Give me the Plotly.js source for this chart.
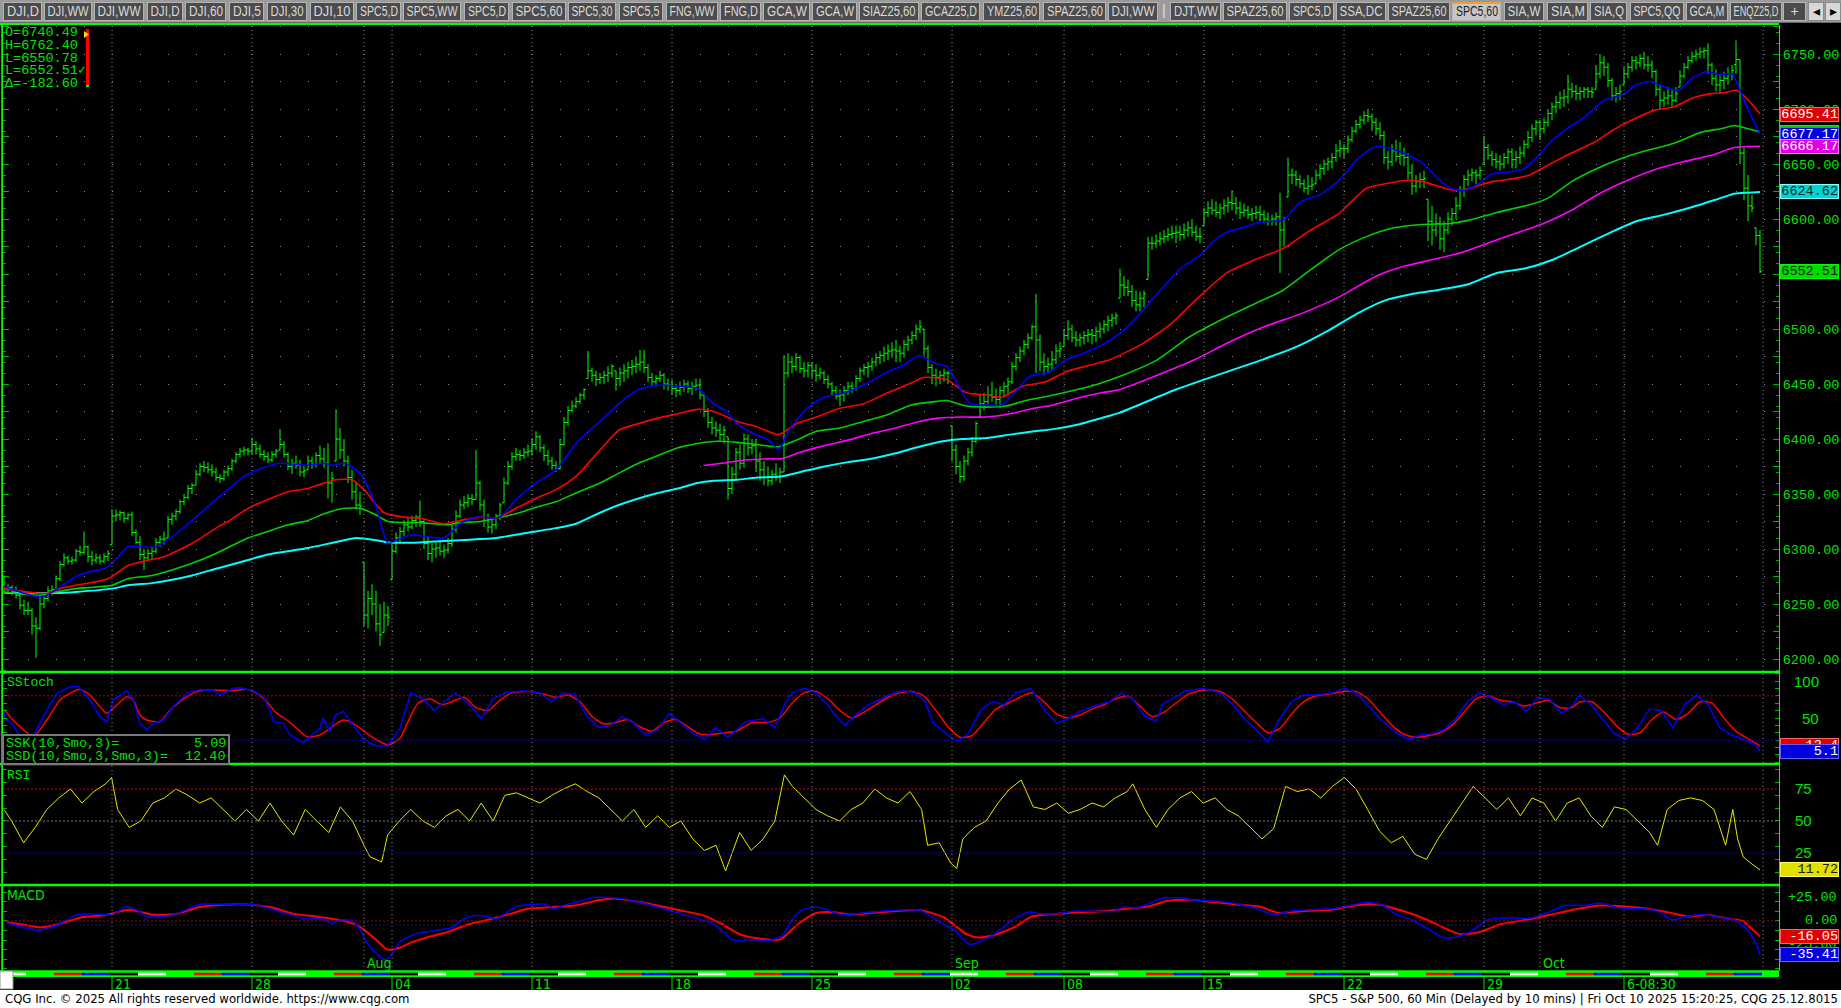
<!DOCTYPE html>
<html><head><meta charset="utf-8">
<script src="https://cdn.plot.ly/plotly-3.0.1.min.js"></script>
<style>
html,body{margin:0;padding:0;background:#000;overflow:hidden}
#wrap{position:relative;width:1841px;height:1008px;background:#000}
#chart{position:absolute;left:0;top:0;width:1841px;height:1008px}
#tabs{position:absolute;left:0;top:0;width:1841px;height:23px;background:#9a9a9a;z-index:5;border-bottom:1px solid #6a6a6a;box-sizing:border-box}
.tab{position:absolute;top:2px;height:19px;background:#4c4c4c;color:#dadada;border:1px solid #b4b4b4;box-sizing:border-box;font:14px 'Liberation Sans','Arial',sans-serif;line-height:17px;white-space:nowrap;overflow:hidden}
.tab span{position:absolute;left:50%;top:0;white-space:nowrap;transform-origin:50% 50%}
.tab.sel{background:#c6c6c6;color:#1e1e1e;border-top:2px solid #f0a030;line-height:15px}
.tab.btn{background:#d8d8d8;color:#000;border-color:#8a8a8a}
.sep{position:absolute;top:2px;height:19px;color:#e0e0e0;font:14px 'Liberation Sans',sans-serif;line-height:17px}
#footer{position:absolute;left:0;top:990px;width:1841px;height:18px;background:#fff;z-index:5;font:13px 'Liberation Sans Narrow','DejaVu Sans Condensed',sans-serif;color:#000;line-height:18px}
#footer .l{position:absolute;left:5px;top:0}
#footer .r{position:absolute;right:3px;top:0}
</style></head>
<body>
<div id="wrap">
  <div id="chart"></div>
  <div id="tabs"></div>
  <div id="footer"><span class="l"></span><span class="r"></span></div>
</div>
<script>
// ---------------- DATA ----------------
const sessionDates = ['07-15','07-16','07-17','07-18','07-21','07-22','07-23','07-24','07-25','07-28','07-29','07-30','07-31','08-01',
'08-04','08-05','08-06','08-07','08-08','08-11','08-12','08-13','08-14','08-15','08-18','08-19','08-20','08-21','08-22',
'08-25','08-26','08-27','08-28','08-29','09-02','09-03','09-04','09-05','09-08','09-09','09-10','09-11','09-12',
'09-15','09-16','09-17','09-18','09-19','09-22','09-23','09-24','09-25','09-26','09-29','09-30','10-01','10-02','10-03',
'10-06','10-07','10-08','10-09','10-10'];

const highs = [
6276,6268,6267,6266,6260,6254,
6252,6246,6238,6257,6258,6266,6267, 6276,6289,6296,6294,6293,6300,6303, 6316,6303,6298,6296,6295,6296,6299,
6336,6336,6335,6334,6333,6334,6318, 6312,6300,6300,6302,6310,6312,6316, 6330,6333,6336,6345,6350,6358,6360, 6372,6378,6380,6379,6377,6374,6368, 6372,6376,6382,6388,6392,6393,6392,
6401,6398,6395,6390,6388,6389,6391, 6409,6398,6388,6382,6385,6381,6376, 6385,6384,6388,6394,6392,6396,6370, 6427,6410,6400,6385,6372,6360,6352, 6288,6262,6268,6262,6250,6252,6248,
6305,6315,6320,6326,6328,6330,6331, 6344,6326,6312,6305,6306,6308,6304, 6310,6322,6335,6345,6348,6350,6350, 6390,6362,6345,6332,6328,6332,6342, 6365,6380,6388,6392,6390,6392,6395,
6400,6407,6404,6395,6390,6384,6380, 6400,6420,6430,6435,6438,6442,6446, 6480,6465,6462,6460,6462,6466,6468, 6462,6465,6468,6470,6472,6475,6481, 6481,6468,6460,6458,6462,6460,6455,
6454,6450,6452,6454,6453,6452,6455, 6455,6442,6428,6420,6416,6414,6412, 6402,6375,6392,6395,6405,6404,6400, 6400,6388,6380,6375,6372,6378,6374, 6476,6478,6475,6478,6476,6470,6470,
6470,6468,6465,6462,6458,6452,6448, 6445,6448,6452,6452,6458,6465,6468, 6470,6474,6478,6480,6484,6486,6488, 6490,6485,6490,6494,6498,6504,6508, 6500,6485,6468,6464,6462,6464,6462,
6412,6395,6380,6385,6392,6402,6416, 6440,6442,6448,6452,6446,6448,6452, 6456,6470,6478,6484,6490,6496,6504, 6532,6495,6478,6474,6480,6486,6488,
6500,6508,6504,6498,6496,6498,6500, 6500,6502,6506,6508,6512,6514,6515, 6555,6548,6545,6540,6535,6534,6535, 6584,6584,6586,6588,6590,6592,6594, 6594,6594,6596,6598,6600,6594,6592,
6610,6616,6618,6616,6614,6618,6620, 6626,6620,6616,6614,6612,6610,6612, 6612,6608,6606,6604,6606,6624,6602, 6656,6646,6644,6640,6636,6640,6638, 6645,6650,6654,6656,6660,6668,6672,
6668,6676,6684,6690,6694,6698,6700, 6696,6692,6688,6680,6662,6668,6672, 6670,6665,6660,6650,6640,6642,6644, 6618,6612,6605,6602,6598,6606,6610, 6620,6630,6640,6645,6646,6645,6648,
6675,6668,6662,6660,6658,6660,6664, 6664,6662,6666,6672,6680,6686,6690, 6690,6692,6700,6706,6712,6716,6718, 6731,6724,6722,6720,6720,6720,6720, 6740,6750,6748,6742,6728,6720,6722,
6738,6742,6748,6748,6750,6752,6748, 6744,6736,6722,6716,6720,6718,6720, 6735,6742,6748,6752,6754,6756,6756, 6760,6742,6736,6732,6734,6738,6740, 6762.40,6745,6665,6640,6622,6592,6590];

const lows = [
6260,6259,6258,6255,6245,6240,
6240,6222,6201,6226,6246,6252,6258, 6262,6271,6284,6286,6286,6288,6294, 6295,6288,6285,6287,6286,6287,6289,
6304,6325,6326,6324,6326,6312,6305, 6290,6281,6289,6291,6296,6302,6304, 6310,6322,6326,6332,6340,6345,6350, 6358,6366,6370,6369,6366,6362,6360, 6362,6366,6371,6378,6383,6385,6385,
6386,6386,6383,6380,6378,6379,6383, 6390,6383,6372,6368,6373,6366,6365, 6372,6373,6374,6378,6374,6346,6342, 6380,6382,6375,6360,6345,6336,6331, 6230,6228,6240,6225,6212,6224,6230,
6272,6296,6306,6312,6316,6318,6320, 6320,6300,6290,6288,6292,6294,6292, 6296,6302,6315,6328,6336,6338,6340, 6345,6335,6320,6315,6314,6318,6326, 6342,6358,6372,6380,6380,6382,6384,
6385,6390,6388,6380,6376,6372,6370, 6372,6394,6412,6424,6428,6432,6436, 6455,6452,6448,6450,6450,6452,6456, 6444,6448,6452,6455,6458,6460,6462, 6460,6452,6448,6448,6452,6445,6444,
6440,6438,6440,6443,6442,6440,6444, 6436,6420,6410,6404,6402,6398,6396, 6345,6350,6362,6372,6374,6385,6386, 6370,6362,6358,6357,6358,6362,6360, 6370,6456,6460,6462,6460,6456,6456,
6455,6452,6454,6450,6446,6440,6436, 6430,6434,6440,6442,6444,6452,6458, 6456,6462,6466,6468,6470,6472,6474, 6470,6470,6474,6480,6486,6490,6496, 6476,6460,6450,6448,6450,6452,6450,
6380,6368,6360,6362,6376,6384,6396, 6420,6426,6430,6434,6430,6428,6438, 6440,6450,6462,6470,6476,6482,6490, 6460,6462,6458,6460,6462,6468,6474,
6484,6490,6488,6484,6484,6486,6488, 6486,6488,6492,6496,6498,6502,6504, 6528,6530,6530,6520,6516,6516,6520, 6545,6572,6574,6576,6578,6580,6582, 6578,6580,6582,6584,6584,6580,6578,
6594,6602,6604,6602,6600,6604,6606, 6608,6604,6600,6602,6600,6598,6600, 6598,6596,6594,6594,6594,6551,6575, 6620,6632,6630,6628,6624,6622,6626, 6632,6636,6640,6644,6646,6652,6656,
6655,6660,6670,6678,6682,6686,6688, 6680,6676,6672,6650,6645,6648,6652, 6650,6648,6636,6622,6624,6628,6628, 6580,6576,6584,6572,6570,6586,6594, 6600,6608,6620,6630,6634,6632,6636,
6650,6654,6648,6646,6644,6646,6650, 6646,6646,6650,6656,6664,6670,6676, 6672,6678,6684,6690,6696,6700,6702, 6705,6710,6708,6708,6710,6710,6710, 6718,6728,6730,6720,6708,6706,6708,
6722,6728,6734,6736,6738,6736,6734, 6728,6712,6700,6702,6704,6702,6706, 6720,6728,6736,6742,6744,6746,6746, 6732,6722,6716,6714,6718,6722,6726, 6732,6650,6617,6598,6606,6576,6550.78];

const closes = [
6263,6265,6261,6258,6249,6244,
6244,6230,6228,6250,6255,6262,6263, 6273,6286,6292,6289,6290,6298,6297, 6302,6293,6290,6292,6289,6293,6296,
6330,6331,6333,6328,6331,6315,6306, 6295,6292,6296,6298,6306,6309,6309, 6327,6330,6334,6343,6347,6355,6358, 6368,6375,6374,6372,6370,6365,6364, 6370,6373,6380,6386,6389,6390,6389,
6395,6391,6386,6384,6381,6386,6389, 6395,6386,6375,6378,6376,6370,6371, 6380,6377,6385,6382,6378,6360,6364, 6400,6390,6380,6365,6352,6340,6339, 6240,6255,6250,6232,6222,6240,6238,
6298,6310,6316,6322,6320,6326,6329, 6325,6305,6296,6300,6301,6298,6299, 6305,6318,6330,6340,6342,6346,6345, 6360,6340,6326,6320,6322,6330,6340, 6360,6375,6384,6386,6385,6388,6389,
6395,6402,6392,6385,6380,6376,6373, 6395,6415,6426,6430,6434,6440,6445, 6462,6458,6454,6456,6458,6460,6466, 6455,6460,6462,6465,6466,6468,6470, 6465,6456,6452,6455,6458,6450,6449,
6446,6444,6447,6450,6446,6448,6449, 6440,6425,6415,6410,6408,6404,6408, 6355,6368,6388,6378,6400,6392,6394, 6380,6372,6365,6362,6368,6366,6370, 6460,6470,6466,6474,6464,6462,6467,
6462,6458,6460,6454,6450,6444,6439, 6440,6444,6448,6446,6455,6462,6465, 6466,6470,6474,6476,6478,6480,6481, 6480,6478,6486,6490,6494,6500,6502, 6482,6465,6458,6456,6458,6460,6460,
6390,6375,6366,6380,6388,6398,6414, 6432,6434,6440,6438,6436,6444,6448, 6452,6466,6474,6480,6486,6492,6502, 6490,6470,6466,6468,6472,6480,6482,
6494,6500,6492,6490,6492,6494,6495, 6494,6498,6500,6504,6508,6510,6512, 6540,6538,6534,6526,6522,6528,6532, 6578,6578,6580,6582,6584,6586,6587, 6588,6586,6590,6592,6588,6584,6584,
6606,6610,6608,6606,6610,6612,6615, 6614,6610,6606,6608,6604,6605,6606, 6604,6600,6598,6600,6602,6590,6600, 6640,6640,6636,6632,6628,6630,6631, 6640,6646,6650,6652,6656,6662,6664,
6664,6672,6680,6686,6690,6694,6693, 6688,6682,6676,6656,6652,6662,6657, 6658,6656,6642,6630,6634,6636,6637, 6598,6590,6596,6582,6590,6600,6605, 6612,6626,6636,6640,6642,6640,6644,
6665,6658,6654,6652,6650,6656,6661, 6654,6656,6660,6668,6674,6682,6688, 6682,6688,6696,6702,6706,6710,6711, 6718,6716,6714,6716,6718,6716,6715, 6732,6742,6738,6726,6712,6714,6716,
6732,6738,6744,6742,6746,6740,6740, 6734,6718,6708,6710,6712,6708,6714, 6730,6738,6744,6748,6750,6752,6753, 6740,6728,6722,6726,6728,6732,6735.11, 6745,6660,6628,6612,6610,6585,6552.51];

const firstOpen = 6268;
const lastDayOpen = 6740.49;   // O=6740.49
const lastDayHigh = 6762.40;
const lastDayLow = 6550.78;
const lastDayChange = -182.60;

// moving averages: bar index / value pairs
const maBlueX = [0,4,8,10,13,18,21,25,27,31,34,38,42,47,53,56,60,64,69,76,80,82,85,89,93,96,98,102,106,110,114,118,122,124,128,133,138,143,149,153.7,158.6,163.5,168.5,173.4,177.4,180.3,183.3,187.3,191.2,193.7,196.2,201.1,205.1,210,215.9,220.9,224.8,228.8,232.7,235.7,238.7,241.6,245.6,249.5,252.5,256.5,261.4,265.4,269.3,274.3,279,282.5,288.3,294.1,298.7,302.2,305.7,310.4,313.9,317.4,319.7,324.3,329,333.7,338.3,341.8,344.1,347.6,351.1,354.6,358.1,361.6,365.1,368.6,372,376.7,380.2,383.7,387.2,390.7,395.3,400,404.7,408.1,411.6,415.1,418.6,422.1,425.6,429.1,432,433.8,436.1,439];
const maBlueY = [6266,6261,6257,6257,6263,6275,6279,6282,6287,6302,6302,6302,6311,6326,6345,6354,6366,6373,6378,6376,6378,6376,6378,6369,6339,6305,6308,6313,6311,6310,6323,6329,6328,6329,6345,6360,6372,6396,6416,6432,6445,6449,6448,6446,6432,6426,6414,6405,6399,6390,6408,6429,6438,6442,6451,6461,6467,6476,6469,6466,6448,6432,6431,6431,6442,6457,6461,6472,6477,6485,6496,6508,6532,6555,6566,6579,6588,6593,6597,6598,6599,6616,6622,6635,6654,6664,6666,6663,6658,6651,6638,6628,6626,6632,6641,6643,6646,6658,6672,6682,6693,6708,6713,6722,6725,6720,6717,6728,6734,6731,6732,6719,6699,6677.17];

const maRedX = [0,8,11,14,18,26,31,35,40,47,53,56,61,66,71,76,80,83,87,90,95,100,104,110,114,119,123,128,133,138,143,149,153.7,158.6,163.5,168.5,173.4,177.4,183.3,188.3,193.7,198.1,203.1,209,214.9,220.9,226.8,229.8,235.7,240.6,245.6,249.5,254.5,260.4,265.4,271.3,276.4,284.8,291.8,298.7,305.7,312.7,319.7,326.7,333.7,340.6,345.3,350,354.6,359.3,362.8,366.3,372,377.9,381.4,386,391.9,397.7,402.3,407,412.8,417.5,422.1,426.8,430.3,433.2,436.1,439];
const maRedY = [6264,6260,6260,6264,6267,6273,6285,6289,6293,6305,6319,6325,6337,6345,6352,6355,6360,6363,6363,6354,6333,6329,6328,6323,6326,6329,6328,6337,6346,6354,6366,6390,6408,6414,6419,6423,6427,6425,6416,6411,6404,6414,6420,6428,6432,6442,6451,6456,6454,6442,6440,6438,6448,6452,6461,6467,6472,6487,6505,6529,6551,6563,6573,6590,6605,6628,6632,6635,6634,6629,6626,6628,6634,6637,6640,6649,6660,6670,6681,6690,6699,6702,6710,6714,6715,6717,6708,6695.41];

const maGreenX = [0,9,13,18,27,31,37,42,47,53,61,66,71,76,80,85,89,93,96,104,111,114,119,123,128,133,138,143,149,153.7,158.6,163.5,168.5,173.4,178.4,183.3,188.3,193.7,198.1,203.1,209,214.9,220.9,226.8,232.7,235.7,240.6,245.6,250.5,255.5,262.4,268.3,274.3,279,288.3,296.4,305.7,312.7,319.7,326.7,333.7,340.6,347.6,354.6,361.6,366.3,373.2,381.4,386,391.9,397.7,403.5,409.3,417.5,424.4,429.1,432.6,436.1,439];
const maGreenY = [6261,6258,6261,6264,6267,6273,6276,6281,6287,6296,6310,6316,6322,6326,6332,6337,6337,6331,6325,6324,6322,6324,6325,6328,6332,6338,6343,6351,6360,6369,6378,6385,6392,6396,6398,6397,6395,6393,6399,6407,6410,6416,6422,6431,6434,6435,6430,6429,6430,6435,6440,6445,6451,6457,6472,6493,6511,6523,6535,6554,6572,6584,6592,6595,6596,6599,6606,6613,6619,6634,6645,6654,6661,6669,6679,6682,6685,6682,6679];

const maMagentaX = [174.9,179.4,185.3,191.2,194.2,199.1,205.1,211,216.9,222.9,228.8,233.7,239.7,245.6,251.5,257.5,262.4,268.3,274.3,279,297.6,305.7,315,324.3,333.7,343,350,357,363.9,370.9,377.9,384.9,391.9,398.8,405.8,412.8,419.8,426.8,432.6,436.1,439];
const maMagentaY = [6376,6378,6381,6382,6382,6388,6394,6399,6405,6410,6416,6419,6420,6420,6423,6428,6431,6437,6442,6445,6472,6487,6502,6514,6529,6548,6557,6563,6569,6578,6587,6596,6608,6623,6635,6645,6652,6658,6665,6666,6666.17];

const maCyanX = [0,9,13,18,27,31,37,42,47,53,61,66,71,76,80,85,88,93,96,104,109,114,119,123,128,133,138,143,149,153.7,158.6,163.5,168.5,173.4,177.4,183.3,188.3,194.2,199.1,205.1,211,216.9,222.9,228.8,234.7,239.7,245.6,251.5,257.5,262.4,268.3,274.3,279,293,314.5,323.2,331.3,338.3,345.3,352.3,359.3,366.3,373.2,380.2,387.2,394.2,401.2,408.1,415.1,422.1,429.1,432.6,436.1,439];
const maCyanY = [6260,6260,6260,6261,6264,6267,6269,6272,6276,6282,6290,6295,6298,6301,6304,6308,6310,6308,6306,6306,6307,6308,6309,6310,6313,6316,6319,6323,6333,6340,6346,6351,6355,6360,6362,6363,6365,6366,6370,6375,6379,6382,6387,6393,6398,6400,6401,6404,6407,6409,6413,6419,6424,6445,6472,6484,6499,6514,6526,6532,6536,6541,6551,6555,6563,6575,6587,6598,6604,6611,6619,6623,6624,6624.62];

// SStoch
const sskX = [0,0.25,2.3,4,7.3,9.8,13.2,16.5,18.6,21.5,24,25.7,27.3,30.7,32.3,34,35.7,37.3,39.8,42.3,45.7,49,50.7,52.3,54,57.3,59,62.3,64.8,66.5,67.3,69.8,71.5,74.8,76.5,79,79.8,81.5,82.8,84.8,87.3,89.8,91.5,93.2,95.7,97.3,99,101.7,104.7,107.6,110,112.9,116.4,119.3,122.3,125.2,129.6,134,136.9,139.9,142.8,145.8,148.7,151.6,154.6,157.5,160.4,163.4,166.3,169.2,172.2,175.1,178,181,185.4,189.8,192.7,195.1,197.1,200,203,205.9,208,210.3,213.3,216.2,219.1,222.1,225,227.9,230.3,232.3,235.3,238.2,241.1,244.1,247,250,252.9,256.7,260.2,263.2,266.1,269,273.4,276.4,279.3,282.2,285.2,288.1,289.6,292.5,295.4,299.8,304.2,307.2,310.1,313,316,318.9,321.9,324.8,327.7,332.1,335.1,338,340.9,343.9,348.3,351.2,354.1,357.1,360,362.9,365.9,368.8,371.7,374.7,377.6,380.6,383.5,386.4,389.4,392.3,393.8,396.7,399.6,402.6,405.5,408.4,411.4,414.3,417.2,420.2,423.1,426,429,431.9,434.8,437.8,439];
const sskY = [63,49.6,40.5,24.8,24.8,51.8,83.3,92.3,92.3,74.3,51.8,45,74.3,86.9,74.3,42.8,33.8,42.8,47.3,65.3,83.3,88.7,86.9,87.8,81.1,90.1,91,86.9,78.8,60.8,45,42.8,27,16.7,24.8,36.1,49.6,31.5,54.1,58.6,40.5,22.5,15.8,12.2,12.2,22.5,36.1,84,76,60,72,84,68,49,76,84,87,84,72,84,81,52,37,40,52,43,27,34,56,43,30,21,37,24,45,49,37,68,84,90,84,68,52,40,56,68,75,84,87,84,72,43,30,18,29,60,72,68,84,90,60,43,49,59,68,72,84,76,52,46,68,78,87,90,84,68,49,34,18,49,72,81,81,84,90,84,68,49,29,21,27,29,34,49,72,84,78,68,72,59,78,75,56,68,81,68,49,29,21,37,62,60,37,68,81,68,37,27,21,14,5.09];
const ssdX = [0,1.5,4,7.3,10.7,14,17.3,19,21.5,24,25.7,28.2,30.7,32.3,34,35.7,39,41.5,45.7,49,53.2,57.3,60.7,63.2,65.7,68.2,70.7,73.2,75.7,79,81.5,84.8,87.3,90.7,94,96.1,99,101,103.5,106.5,109.5,112,115,118,121,124,127,131,135,138,141,144,147,150,153,156,159,162,165,168,171,174,177,180,183,187,191,194,197,200,203,206,209,212,215,218,221,224,227,230,233,236,239,242,245,248,251,254,257,260,263,266,269,272,275,278,281,284,287,290,293,296,300,304,307,310,313,316,319,322,325,328,332,335,338,341,344,347,350,353,356,359,362,365,368,371,374,377,380,383,386,389,392,394,397,400,403,406,409,412,415,418,421,424,427,430,433,436,439];
const ssdY = [63,51.8,38.3,24.8,47.3,74.3,85.6,88.7,81.1,65.3,56.3,67.6,78.8,74.3,54.1,47.3,45,60.8,78.8,86.9,87.8,86.9,88.7,83.3,72,56.3,47.3,36.1,24.8,27,36.1,47.3,42.8,29.3,18,13.5,22.5,45,70,76,68,72,78,64,60,74,84,86,82,78,81,72,52,42,44,48,38,32,44,48,38,28,28,30,32,44,44,50,70,84,86,76,60,50,58,68,78,84,86,80,60,38,24,26,44,62,70,78,84,72,56,50,54,62,68,76,80,66,52,58,70,82,88,86,76,60,44,30,36,56,72,80,83,86,86,76,58,40,28,24,26,30,40,58,76,80,74,72,66,70,74,64,64,72,72,58,40,28,30,48,58,48,56,72,70,50,32,22,12.40];

// RSI
const rsiX = [0,1.9,4.9,7.8,10.7,13.7,16.6,19.5,22.5,25.4,26.9,28.4,31.3,34.2,37.2,40.1,43,46,48.9,51.8,54.8,57.7,60.6,63.6,66.5,69.4,72.4,75.3,78.2,81.2,84.1,87.1,90,91.5,94.4,95.9,98.8,101.7,104.7,107.6,110.5,113.5,116.4,119.3,122.3,125.2,128.1,131.1,134,136.9,139.9,142.8,145.8,148.7,151.6,154.6,157.5,160.4,163.4,166.3,169.2,172.2,175.1,178,180.4,183.9,186.8,189.8,192.7,195.1,197.1,200,203,205.9,208.9,211.8,214.7,217.7,220.6,223.5,226.5,229.4,230.9,233.8,236.7,238.2,239.7,242.6,245.5,248.5,251.4,254.3,257.3,260.2,263.2,266.1,269,272,274.9,277.8,280.8,282.2,285.2,288.1,291,294,296.9,299.8,302.8,305.7,308.6,311.6,314.5,317.4,320.4,323.3,326.3,329.2,332.1,335.1,338,340.9,343.9,346.8,349.7,352.7,355.6,358.5,361.5,364.4,367.3,370.3,373.2,376.1,379.1,382,385,387.9,390.8,393.8,396.7,399.6,402.6,405.5,408.4,411.4,413.4,415.8,418.7,421.6,424.6,427.5,430.4,432.2,433.4,434.8,436.3,439];
const rsiY = [59,50,33,45,59,68,75,64,73,79,84,59,45,50,64,68,75,70,64,68,59,50,59,50,64,50,39,59,50,41,61,50,31,22,18,39,50,59,50,45,54,59,50,64,50,70,72,68,64,70,75,79,73,68,59,50,59,45,54,45,50,36,27,31,11,41,27,36,50,86,77,68,59,54,50,59,64,75,68,64,73,59,31,33,17,13,36,45,50,64,75,82,61,59,64,56,59,64,61,68,73,79,59,45,59,68,73,64,68,59,54,45,36,44,77,73,75,68,77,84,75,59,42,33,38,24,20,36,50,64,77,68,59,68,54,68,64,50,64,68,54,45,61,59,50,41,31,59,66,68,66,59,31,59,36,22,18,11.72];

// MACD
const macdX = [0.5,4.9,8.5,13,18,22.5,26.9,30.5,33.5,35.7,40,43,48.9,54.7,60.6,63.5,66.5,72.4,75.3,79.7,81.9,84.1,87,89.2,90.7,92.9,95.1,96.6,98.8,101.7,104.6,108.3,112,114.9,117.8,120.8,123,125.2,128.1,131,135.5,137.6,139.8,144.2,147.2,151.6,156,160.4,164.8,169.2,173.6,176.5,179.5,181.7,184.6,186.8,189.7,192.7,194.9,197.1,199.3,201.5,204.4,207.3,210.3,214.7,219.1,229,233.4,237.8,241.5,245.2,248.1,252.5,256.2,259.8,264.2,267.2,271.6,277.5,279.7,283.3,286.3,289.2,293.6,298,302.4,308.3,314.2,317.1,321.5,325.9,331.8,337.7,340.6,345,347.9,352.3,356.8,359.7,362.6,367,370.7,375.8,381.7,386.1,390.5,394.9,399.3,403.7,409.6,414,417,419.9,424.3,428.7,433.1,436,438.2,439];
const macdY = [-1.5,-6.8,-9.6,-5,6.4,7.4,6.4,14.5,10.9,4.6,4.6,7.4,17.3,17.3,17.3,16.3,12.7,5.6,2.1,2.1,-2.5,1,0.3,-10.2,-22.6,-33.2,-40.3,-36.8,-22.6,-15.5,-12,-9.6,-6.8,2.1,5.6,4.6,2.1,7.4,15.2,17,17.3,12.7,16.3,20.8,24.4,24.4,22.2,18,12.7,7.4,2.1,-1.5,-10.2,-19,-20.8,-19,-20.8,-19,-13.8,2.1,10.9,13.8,13.8,9.2,6.7,8.4,10.2,11,0.3,-10.3,-24.4,-19.1,-12,2.1,9.2,7.4,8.1,10.2,10.2,10.2,14.5,13.7,18,23.3,24.3,21.5,20.8,18,11.6,6.7,10.2,11.6,12.7,17.3,19.7,16.2,7.4,0.3,-10.3,-17.3,-17.3,-10.3,1,3.1,3.1,9.2,16.2,16.2,18.7,13.7,12.7,9.2,1,3.9,6.7,3.9,0.3,-10.3,-25,-35.41];
const signalX = [0.5,4.9,9.3,13.7,19.5,25.4,31.3,37.1,43,48.9,54.7,60.6,66.5,72.4,78.2,84.1,88.5,92.9,95.8,98.8,101.7,106.1,110.5,116.4,120.8,126.6,131,136.9,142.8,148.6,153,157.4,163.3,169.2,175,179.5,183.9,188.3,194.1,198.5,202.9,207.3,211.7,219.1,229,234.9,240.7,243.7,248.1,252.5,256.9,262.8,268.6,274.5,280.4,286.3,290.7,296.5,302.4,308.3,314.2,318.6,324.4,331.8,337.7,343.5,349.4,355.3,361.2,364.1,368.5,374.4,381.7,387.6,393.5,399.3,405.2,411.1,417,421.4,425.8,431.6,434.6,437.5,439];
const signalY = [-1.4,-3.9,-6.7,-3.2,3.9,6.3,11.6,6.7,7.4,14.5,16.9,17.3,14.5,7.4,4.6,1,-4.9,-19.1,-29.7,-27.9,-22.6,-16.6,-12,-3.2,1,7.4,12.7,14.5,16.2,21.5,23.3,20.8,16.2,10.9,5.6,-3.2,-13.8,-18,-19.1,-3.2,8.1,9.2,6.7,9.2,11.2,3.9,-13.8,-17.3,-13.8,-6.7,4.6,7.4,9.2,10.2,12.7,15.2,20.8,22.2,19.7,17.3,14.5,8.5,10.2,11.6,16.2,17.3,10.9,2.1,-9.6,-13.8,-12,-3.2,2.1,7.4,12.7,16.2,15.2,12.7,8.1,4.6,6.3,2.1,0.3,-10.3,-16.05];

// axis labels
const dateTickIdx = [27,62,97,132,167,202,237,265,300,335,370,405];
const dateTickText = ['21','28','04','11','18','25','02','08','15','22','29','6-08:30'];
const monthIdx = [90,237,384];
const monthText = ['Aug','Sep','Oct'];
const priceTickVals = [6200,6225,6250,6275,6300,6325,6350,6375,6400,6425,6450,6475,6500,6525,6550,6575,6600,6625,6650,6675,6700,6725,6750,6775];
const stochTickVals = [50,100];
const rsiTickVals = [25,50,75];
const macdTickVals = [25,0,-25];

const tabLabels = ['DJI,D','DJI,WW','DJI,WW','DJI,D','DJI,60','DJI,5','DJI,30','DJI,10','SPC5,D','SPC5,WW','SPC5,D','SPC5,60','SPC5,30','SPC5,5','FNG,WW','FNG,D','GCA,W','GCA,W','SIAZ25,60','GCAZ25,D','YMZ25,60','SPAZ25,60','DJI,WW','DJT,WW','SPAZ25,60','SPC5,D','SSA,DC','SPAZ25,60','SPC5,60','SIA,W','SIA,M','SIA,Q','SPC5,QQ','GCA,M','ENQZ25,D','+'];
const footerLeft = 'CQG Inc. © 2025 All rights reserved worldwide. https://www.cqg.com';
const footerRight = 'SPC5 - S&P 500, 60 Min (Delayed by 10 mins) | Fri Oct 10 2025 15:20:25, CQG 25.12.8015';

// ---------------- LAYOUT / STYLE ----------------
const tabEdges = [[3,42],[44,92],[94,144],[147,183],[185,226],[229,264],[267,307],[310,354],[356,401],[403,461],[464,509],[512,566],[568,616],[619,663],[666,718],[720,761],[763,810],[812,857],[859,919],[921,980],[983,1040],[1043,1106],[1108,1158],[1170,1221],[1223,1287],[1289,1334],[1336,1386],[1388,1450],[1452,1501],[1504,1544],[1547,1588],[1590,1627],[1630,1684],[1686,1728],[1730,1782],[1783,1806]];
const selectedTab = 28;
const tabsEl = document.getElementById('tabs');
tabLabels.forEach((t,k)=>{
  const d=document.createElement('div');
  d.className='tab'+(k===selectedTab?' sel':'');
  const w=tabEdges[k][1]-tabEdges[k][0];
  d.style.left=tabEdges[k][0]+'px'; d.style.width=w+'px';
  const s=document.createElement('span'); s.textContent=t; d.appendChild(s);
  tabsEl.appendChild(d);
  const tw=s.getBoundingClientRect().width, avail=w-7;
  let f = tw>avail ? avail/tw : 1;
  if(k===tabLabels.length-2) f=Math.min(f,0.82);
  s.style.transform='translateX(-50%) scaleX('+f.toFixed(3)+')';
});
(function(){
  const s=document.createElement('div'); s.className='sep'; s.style.left='1162px'; s.textContent='|'; tabsEl.appendChild(s);
  [['◂',1808],['▸',1825]].forEach(([t,x])=>{const b=document.createElement('div');b.className='tab btn';b.style.left=x+'px';b.style.width='16px';b.style.textAlign='center';b.textContent=t;tabsEl.appendChild(b);});
})();
document.querySelector('#footer .l').textContent=footerLeft;
document.querySelector('#footer .r').textContent=footerRight;

const W=1841,H=1008;
const px=x=>x/W, py=y=>1-y/H;
const MONO="'Liberation Mono','DejaVu Sans Mono',monospace";
const SANS="'Liberation Sans','Arial',sans-serif";
const NARROW="'Liberation Sans Narrow','DejaVu Sans Condensed','Liberation Sans',sans-serif";
const GREEN='#00e400', BAR='#00ff00';

const idx = closes.map((_,i)=>i);
const lastDayStart = closes.length-7;
const opens = closes.map((c,i)=>{
  const o = i===0 ? firstOpen : (i===lastDayStart ? lastDayOpen : closes[i-1]);
  return Math.min(highs[i], Math.max(lows[i], o));
});

function line(x,y,color,width,yaxis,shape){
  return {type:'scatter',mode:'lines',x,y,yaxis,xaxis:'x',line:{color,width,shape:shape||'linear',smoothing:0.6},hoverinfo:'skip'};
}
const traces = [
  line(maCyanX,maCyanY,'#00ffff',2,'y','spline'),
  line(maMagentaX,maMagentaY,'#ff00ff',1.6,'y','spline'),
  line(maGreenX,maGreenY,'#00d000',1.6,'y','spline'),
  line(maRedX,maRedY,'#ff0000',1.6,'y','spline'),
  line(maBlueX,maBlueY,'#0000ff',1.6,'y','spline'),
  {type:'ohlc',x:idx,open:opens,high:highs,low:lows,close:closes,xaxis:'x',yaxis:'y',tickwidth:0.5,
   increasing:{line:{color:BAR,width:1}},decreasing:{line:{color:BAR,width:1}},hoverinfo:'skip'},
  line(ssdX,ssdY,'#ff0000',1.5,'y2','spline'),
  line(sskX,sskY,'#0000ff',1.5,'y2'),
  line(rsiX,rsiY,'#e8e800',1,'y3'),
  line(signalX,signalY,'#ff0000',2,'y4','spline'),
  line(macdX,macdY,'#0000ff',1.5,'y4','spline')
];

function yax(domain,range,extra){
  return Object.assign({domain,range,side:'right',anchor:'x',showline:true,linecolor:BAR,linewidth:1,mirror:'ticks',
    ticks:'inside',ticklen:6,tickcolor:'#00b400',zeroline:false,showgrid:false,fixedrange:true,showticklabels:false},extra||{});
}
const shapes=[], annotations=[];
function hline(Y,w,c,x0,x1){shapes.push({type:'line',xref:'paper',yref:'paper',x0:px(x0===undefined?0:x0),x1:px(x1===undefined?1779:x1),y0:py(Y),y1:py(Y),line:{color:c||BAR,width:w||2}});}
function A(text,X,Y,o){return Object.assign({text,x:px(X),y:py(Y),xref:'paper',yref:'paper',showarrow:false,xanchor:'left',yanchor:'middle',font:{family:MONO,size:13.5,color:GREEN}},o||{});}

// vertical dotted grid (week starts, month starts, current bar)
[...dateTickIdx, monthIdx[0], monthIdx[2], closes.length-0.25].forEach(v=>{
  shapes.push({type:'line',xref:'x',yref:'paper',x0:v,x1:v,y0:py(971),y1:py(25),line:{color:'#8a8a8a',width:1,dash:'1px,3px'}});
});
// reference levels
const refLines=[['y2',80,'#b00000'],['y2',20,'#0000c8'],['y3',75,'#b00000'],['y3',50,'#7a7a7a'],['y3',25,'#0000c8'],['y4',0,'#b00000'],['y4',-4.5,'#0000c8']];
refLines.forEach(([ya,v,c])=>shapes.push({type:'line',xref:'paper',yref:ya,x0:px(3),x1:px(1779),y0:v,y1:v,line:{color:c,width:1,dash:'2px,2px'}}));
// frame
hline(24,2); hline(672,2.5); hline(764,2.5); hline(885,2.5); hline(971,1.5);
shapes.push({type:'line',xref:'paper',yref:'paper',x0:px(2),x1:px(2),y0:py(23),y1:py(977),line:{color:BAR,width:1.5}});
// session color strip
shapes.push({type:'rect',xref:'paper',yref:'paper',x0:px(2),x1:px(1779),y0:py(977),y1:py(971),fillcolor:BAR,line:{width:0}});
const dayColor={1:'#000000',2:'#ffffff',3:'#00ff00',4:'#ff0000',5:'#0000ff'};
sessionDates.forEach((d,k)=>{
  const [m,dd]=d.split('-').map(Number);
  const wd=new Date(Date.UTC(2025,m-1,dd)).getUTCDay();
  const s = k===0?0:6+7*(k-1), e = k===0?5:s+6;
  shapes.push({type:'rect',xref:'x',yref:'paper',x0:Math.max(-0.25,s-0.5),x1:e+0.5,y0:py(975.3),y1:py(972.7),fillcolor:dayColor[wd],line:{width:0}});
});
// date ticks and labels
dateTickIdx.forEach((v,k)=>{
  shapes.push({type:'line',xref:'x',yref:'paper',x0:v,x1:v,y0:py(990),y1:py(977),line:{color:GREEN,width:1}});
  annotations.push({text:dateTickText[k],x:v,xref:'x',y:py(983.5),yref:'paper',xanchor:'left',yanchor:'middle',xshift:1,showarrow:false,font:{family:NARROW,size:14,color:GREEN}});
});
monthIdx.forEach((v,k)=>annotations.push({text:monthText[k],x:v,xref:'x',y:py(963),yref:'paper',xanchor:'left',yanchor:'middle',xshift:1,showarrow:false,font:{family:NARROW,size:14,color:GREEN}}));
// scroll thumb
shapes.push({type:'rect',xref:'paper',yref:'paper',x0:px(0),x1:px(13),y0:py(989),y1:py(971),fillcolor:'#ffffff',line:{color:'#909090',width:1}});
// top-left day range marker
shapes.push({type:'rect',xref:'paper',yref:'paper',x0:px(86),x1:px(89),y0:py(86),y1:py(29),fillcolor:'#ff0000',line:{width:0}});
shapes.push({type:'rect',xref:'paper',yref:'paper',x0:px(86),x1:px(89),y0:py(87),y1:py(85),fillcolor:BAR,line:{width:0}});
shapes.push({type:'path',xref:'paper',yref:'paper',path:`M ${px(84)} ${py(31)} L ${px(89)} ${py(34.5)} L ${px(84)} ${py(38)} Z`,fillcolor:'#e8e800',line:{width:0}});
// stoch info box
shapes.push({type:'rect',xref:'paper',yref:'paper',x0:px(3),x1:px(229),y0:py(764),y1:py(735),fillcolor:'#000000',line:{color:'#7a7a7a',width:2}});

// OHLC info
const fmt=v=>v.toFixed(2);
[['O='+fmt(lastDayOpen),33],['H='+fmt(lastDayHigh),45.5],['L='+fmt(lastDayLow),58],['L='+fmt(closes[closes.length-1])+'✓',70.5],['Δ='+fmt(lastDayChange),83]]
  .forEach(([t,Y])=>annotations.push(A(t,3,Y)));
// panel titles
annotations.push(A('SStoch',5,682,{font:{family:MONO,size:13,color:GREEN}}));
annotations.push(A('RSI',5,775,{font:{family:MONO,size:13,color:GREEN}}));
annotations.push(A('MACD',5,895,{font:{family:NARROW,size:14,color:GREEN}}));
annotations.push(A('SSK(10,Smo,3)=',4,743));
annotations.push(A('SSD(10,Smo,3,Smo,3)=',4,756));
annotations.push(A(fmt(sskY[sskY.length-1]),228,743,{xanchor:'right'}));
annotations.push(A(fmt(ssdY[ssdY.length-1]),228,756,{xanchor:'right'}));
// subpanel axis labels
stochTickVals.forEach(v=>annotations.push({text:String(v),x:px(1821),xref:'paper',y:v,yref:'y2',xanchor:'right',yanchor:'middle',showarrow:false,font:{family:SANS,size:15,color:GREEN}}));
rsiTickVals.forEach(v=>annotations.push({text:String(v),x:px(1814),xref:'paper',y:v,yref:'y3',xanchor:'right',yanchor:'middle',showarrow:false,font:{family:SANS,size:15,color:GREEN}}));
macdTickVals.forEach(v=>annotations.push({text:(v>0?'+':'')+fmt(v),x:px(1839),xref:'paper',y:v,yref:'y4',xanchor:'right',yanchor:'middle',showarrow:false,font:{family:MONO,size:13.5,color:GREEN}}));
// value tags
function tag(text,val,yref,bg,fg,border){
  annotations.push({text,x:px(1780),xref:'paper',y:val,yref,xanchor:'left',yanchor:'middle',showarrow:false,
    bgcolor:bg,bordercolor:border,borderwidth:1,borderpad:0,width:57,height:13,align:'right',font:{family:MONO,size:13.5,color:fg}});
}
const last=a=>a[a.length-1];
tag(fmt(last(maRedY)),last(maRedY),'y','#e00000','#ffffff','#ff6060');
tag(fmt(last(maGreenY)),last(maGreenY),'y','#00c800','#002000','#00ff00');
tag(fmt(last(maBlueY)),last(maBlueY),'y','#0000e0','#ffffff','#6060ff');
tag(fmt(last(maMagentaY)),last(maMagentaY),'y','#e000e0','#ffffff','#ff80ff');
tag(fmt(last(maCyanY)),last(maCyanY),'y','#00d4d4','#002828','#80ffff');
tag(fmt(last(closes)),last(closes),'y','#00dc00','#002000','#00ff00');
tag(last(ssdY).toFixed(1),last(ssdY),'y2','#e00000','#ffffff','#ff6060');
tag(last(sskY).toFixed(1),last(sskY),'y2','#0000e0','#ffffff','#6060ff');
tag(fmt(last(rsiY)),last(rsiY),'y3','#e0e000','#202000','#ffff60');
tag(fmt(last(signalY)),last(signalY),'y4','#e00000','#ffffff','#ff6060');
tag(fmt(last(macdY)),last(macdY),'y4','#0000e0','#ffffff','#6060ff');

const layout={
  width:W,height:H,margin:{l:0,r:0,t:0,b:0},paper_bgcolor:'#000',plot_bgcolor:'#000',showlegend:false,hovermode:false,dragmode:false,
  xaxis:{domain:[px(3),px(1779)],range:[-0.25,443.75],showgrid:false,zeroline:false,showticklabels:false,ticks:'',showline:false,anchor:'y4',rangeslider:{visible:false},fixedrange:true},
  yaxis:yax([py(672),py(25)],[6188.2,6776.4],{
    tickmode:'array',tickvals:priceTickVals,ticktext:priceTickVals.map(v=>v%50===0?fmt(v):''),showticklabels:true,
    tickfont:{family:MONO,size:13.5,color:GREEN},showgrid:true,gridcolor:'#8a8a8a',gridwidth:1,griddash:'0px,25px,1px,2px',
    minor:{ticks:'inside',ticklen:3,tickcolor:'#00a000',tickmode:'linear',tick0:6200,dtick:10,showgrid:false}}),
  yaxis2:yax([py(764),py(672)],[-12.2,112.2],{tickmode:'linear',tick0:0,dtick:10,ticklen:4}),
  yaxis3:yax([py(885),py(764)],[0,94.5],{tickmode:'linear',tick0:0,dtick:10,ticklen:4}),
  yaxis4:yax([py(971),py(885)],[-52.1,37.5],{tickmode:'linear',tick0:0,dtick:10,ticklen:4}),
  shapes,annotations
};
Plotly.newPlot('chart',traces,layout,{staticPlot:true,displayModeBar:false});
</script>
</body></html>
